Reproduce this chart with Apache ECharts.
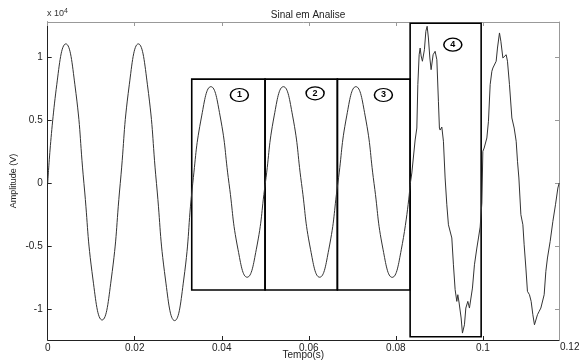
<!DOCTYPE html>
<html>
<head>
<meta charset="utf-8">
<script src="https://cdn.jsdelivr.net/npm/echarts@6/dist/echarts.min.js"></script>
<style>
  html, body { margin: 0; padding: 0; background: #fff; }
  #chart { width: 583px; height: 360px; }
</style>
</head>
<body>
<div id="chart"></div>
<script>
// sinal limpo (0 a 0.0833 s), lido a cada 1/8 de periodo
var cleanT = [0, 0.00208, 0.00417, 0.00625, 0.00833, 0.01042, 0.0125, 0.01458, 0.01667,
    0.01875, 0.02083, 0.02292, 0.025, 0.02708, 0.02917, 0.03125, 0.03333,
    0.03542, 0.0375, 0.03958, 0.04167, 0.04375, 0.04583, 0.04792, 0.05,
    0.05208, 0.05417, 0.05625, 0.05833, 0.06042, 0.0625, 0.06458, 0.06667,
    0.06875, 0.07083, 0.07292, 0.075, 0.07708, 0.07917, 0.08125, 0.08333];
var cleanV = [0, 7850, 11100, 7850, 0, -7670, -10850, -7670, 0,
    7850, 11100, 7850, 0, -7670, -10900, -7670, 0,
    5440, 7700, 5440, 0, -5270, -7450, -5270, 0,
    5440, 7700, 5440, 0, -5270, -7450, -5270, 0,
    5440, 7700, 5440, 0, -5270, -7460, -5270, 0];

// trecho com distorcao (0.0833 s ate o fim)
var noisyT = [0.08333, 0.08368, 0.08444, 0.08483, 0.08506, 0.08536, 0.08559, 0.08582, 0.08611,
    0.08657, 0.08690, 0.08720, 0.08749, 0.08782, 0.08811, 0.08857, 0.08903, 0.08943,
    0.08979, 0.09002, 0.09018, 0.09057, 0.09094, 0.09133, 0.09172, 0.09209, 0.09248,
    0.09287, 0.09324, 0.09363, 0.09402, 0.09425, 0.09455, 0.09501, 0.09531, 0.09554,
    0.09577, 0.09609, 0.09655, 0.09692, 0.09724, 0.09761, 0.09807, 0.09862, 0.09899,
    0.09938, 0.09977, 0.10000, 0.10030, 0.10092, 0.10129, 0.10168, 0.10207, 0.10230,
    0.10260, 0.10306, 0.10336, 0.10382, 0.10414, 0.10460, 0.10490, 0.10536, 0.10566,
    0.10612, 0.10667, 0.10720, 0.10766, 0.10796, 0.10828, 0.10874, 0.10920, 0.10949,
    0.10989, 0.11025, 0.11071, 0.11110, 0.11149, 0.11186, 0.11218, 0.11255, 0.11294,
    0.11333, 0.11370, 0.11409, 0.11448, 0.11485, 0.11547, 0.11609, 0.11669, 0.11724, 0.11754];
var noisyV = [0, 840, 3460, 4410, 7860, 10240, 10770, 10140, 9720,
    10640, 12100, 12500, 11570, 9980, 9050, 10240, 10510, 9840,
    6540, 4410, 4250, 4490, 3360, 440, -1690, -3280, -3140,
    -4330, -6460, -8440, -9370, -8840, -9500, -10690, -11890, -12020,
    -11230, -9900, -9370, -9900, -10030, -8310, -6460, -5130, -4330,
    -3460, -1550, 2560, 2820, 3620, 4950, 7860, 8920, 9180,
    9050, 9720, 10770, 11970, 11310, 9980, 10110, 10240, 9720,
    7860, 5210, 4410, 3360, 1770, 440, -2480, -3280, -4870,
    -6720, -8570, -8840, -9370, -10430, -11230, -11350, -10430, -10160,
    -9900, -10030, -8840, -6980, -5920, -4600, -3010, -1690, -360, 40];

// janelas de analise
var boxEdges = [0.0331, 0.04995, 0.06657, 0.08329, 0.09961];
var boxTop = 8300, boxBottom = -8470;
var box4Top = 12740, box4Bottom = -12180;
var tagNames = ['1', '2', '3', '4'];
var tagT = [0.04405, 0.06145, 0.07715, 0.0931];
var tagV = [7040, 7170, 7040, 11040];

var xTicks = [0, 0.02, 0.04, 0.06, 0.08, 0.1];
var yTicks = [-10000, -5000, 0, 5000, 10000];

var myChart = echarts.init(document.getElementById('chart'));
var font = 'Liberation Sans, Arial, sans-serif';

var areas = [];
for (var i = 0; i < 4; i++) {
    var yHi = i < 3 ? boxTop : box4Top;
    var yLo = i < 3 ? boxBottom : box4Bottom;
    areas.push([{coord: [boxEdges[i], yHi]}, {coord: [boxEdges[i + 1], yLo]}]);
}

var option = {
    animation: false,
    backgroundColor: '#fff',
    title: {
        text: 'Sinal em Analise',
        left: 303,
        top: 5,
        textAlign: 'center',
        textStyle: {fontFamily: font, fontSize: 10, fontWeight: 'normal', color: '#222'}
    },
    graphic: [
        {
            type: 'text', left: 47, top: 8,
            style: {
                text: '{a|x 10}{b|4}',
                rich: {
                    a: {fontFamily: font, fontSize: 9, fill: '#333'},
                    b: {fontFamily: font, fontSize: 7, fill: '#333', verticalAlign: 'top', padding: [0, 0, 5, 0]}
                }
            }
        },
        {
            type: 'text', left: 560, top: 342,
            style: {text: '0.12', fontFamily: font, fontSize: 10, fill: '#222'}
        }
    ],
    grid: {left: 47.7, right: 24, top: 22, bottom: 20, containLabel: false, outerBoundsMode: 'none'},
    xAxis: [
        {
            type: 'value', min: 0, max: 0.1175,
            name: 'Tempo(s)', nameLocation: 'middle', nameGap: 10, nameMoveOverlap: false,
            nameTextStyle: {fontFamily: font, fontSize: 10, color: '#222'},
            axisLine: {onZero: false, lineStyle: {color: '#222', width: 1}},
            axisTick: {inside: true, length: 4, customValues: xTicks, lineStyle: {color: '#222'}},
            axisLabel: {fontFamily: font, fontSize: 10, color: '#222', margin: 3, customValues: xTicks,
                formatter: function (v) { return String(+v.toFixed(2)); }},
            splitLine: {show: false}
        },
        {
            type: 'value', min: 0, max: 0.1175, position: 'top',
            axisLine: {onZero: false, lineStyle: {color: '#999', width: 1}},
            axisTick: {inside: true, length: 4, customValues: xTicks, lineStyle: {color: '#999'}},
            axisLabel: {show: false},
            splitLine: {show: false}
        }
    ],
    yAxis: [
        {
            type: 'value', min: -12440, max: 12840,
            name: 'Amplitude (V)', nameLocation: 'middle', nameGap: 30, nameMoveOverlap: false,
            nameTextStyle: {fontFamily: font, fontSize: 9, color: '#222'},
            axisLine: {show: true, onZero: false, lineStyle: {color: '#222', width: 1}},
            axisTick: {show: true, inside: true, length: 4, customValues: yTicks, lineStyle: {color: '#222'}},
            axisLabel: {fontFamily: font, fontSize: 10, color: '#222', margin: 5, customValues: yTicks,
                formatter: function (v) { return String(v / 10000); }},
            splitLine: {show: false}
        },
        {
            type: 'value', min: -12440, max: 12840, position: 'right',
            axisLine: {show: true, onZero: false, lineStyle: {color: '#999', width: 1}},
            axisTick: {show: true, inside: true, length: 4, customValues: yTicks, lineStyle: {color: '#999'}},
            axisLabel: {show: false},
            splitLine: {show: false}
        }
    ],
    series: [
        {
            name: 'limpo',
            type: 'line',
            xAxisIndex: 0, yAxisIndex: 0,
            smooth: true,
            showSymbol: false,
            lineStyle: {color: '#333', width: 1},
            data: cleanT.map(function (t, i) { return [t, cleanV[i]]; }),
            markArea: {
                silent: true,
                itemStyle: {color: 'rgba(0,0,0,0)', borderColor: '#000', borderWidth: 1.6},
                data: areas
            },
            markPoint: {
                silent: true,
                symbol: 'circle',
                symbolSize: [18, 13],
                itemStyle: {color: '#fff', borderColor: '#000', borderWidth: 1.3},
                label: {show: true, color: '#000', fontFamily: font, fontSize: 9, fontWeight: 'bold',
                    formatter: function (p) { return p.data.name; }},
                data: tagT.map(function (t, i) { return {name: tagNames[i], coord: [t, tagV[i]]}; })
            }
        },
        {
            name: 'distorcido',
            type: 'line',
            xAxisIndex: 0, yAxisIndex: 0,
            showSymbol: false,
            lineStyle: {color: '#333', width: 1},
            data: noisyT.map(function (t, i) { return [t, noisyV[i]]; })
        }
    ]
};

myChart.setOption(option);
</script>
</body>
</html>
